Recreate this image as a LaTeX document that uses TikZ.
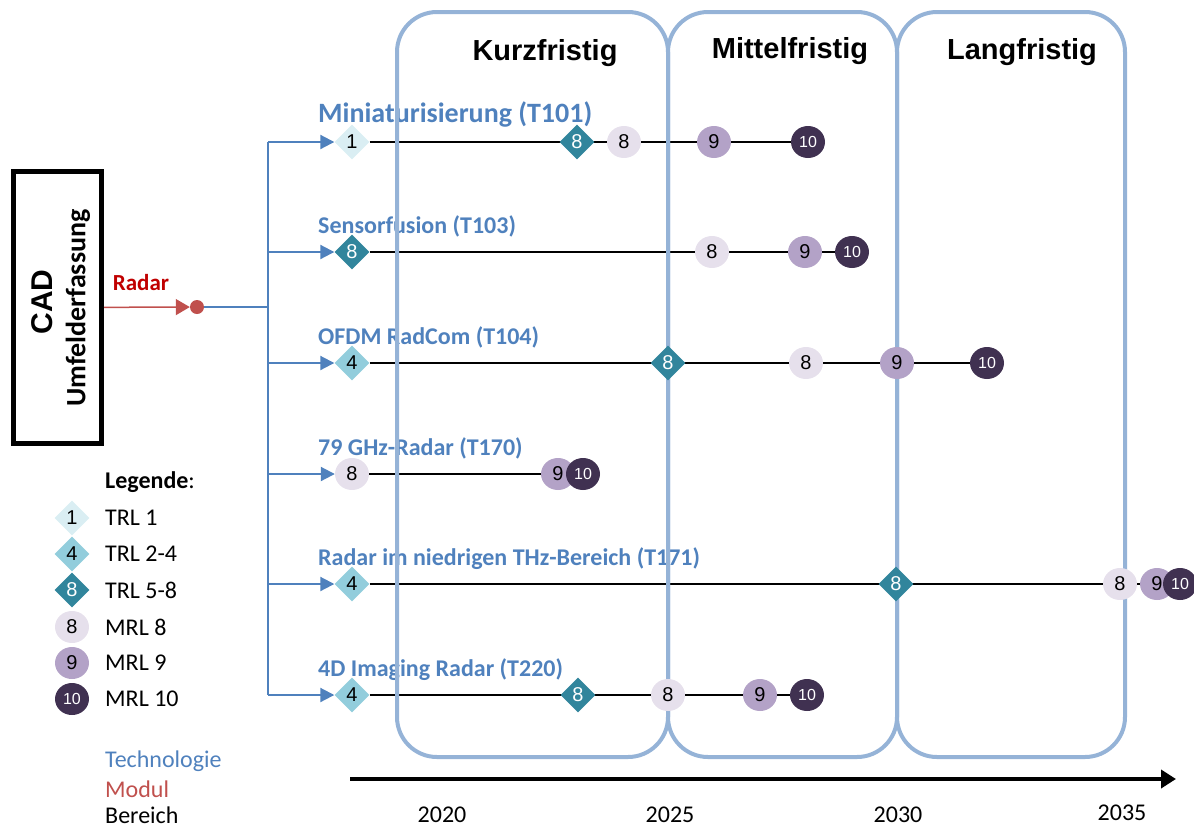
\documentclass[tikz,border=0pt]{standalone}
\usepackage{fontspec}
\setmainfont{Carlito}
\newfontfamily\arialfont{Liberation Sans}
\usepackage{tikz}
\usetikzlibrary{arrows.meta}
\usetikzlibrary{shapes.geometric}

\definecolor{trlone}{HTML}{DAEEF3}
\definecolor{trltwo}{HTML}{92CDDC}
\definecolor{trlfive}{HTML}{31859C}
\definecolor{mrleight}{HTML}{E6E0EC}
\definecolor{mrlnine}{HTML}{B3A2C7}
\definecolor{mrlten}{HTML}{403151}
\definecolor{techblue}{HTML}{4F81BD}
\definecolor{colblue}{HTML}{95B3D7}
\definecolor{modred}{HTML}{C0504D}
\definecolor{radred}{HTML}{C00000}

\pgfdeclarelayer{back}
\pgfdeclarelayer{cols}
\pgfsetlayers{back,cols,main}

\begin{document}
\begin{tikzpicture}[x=1pt,y=-1pt,
	trl/.style={diamond,minimum width=35pt,minimum height=35pt,inner sep=0pt,font=\arialfont\fontsize{20}{20}\selectfont},
	trla/.style={trl,fill=trlone},
	trlb/.style={trl,fill=trltwo},
	trlc/.style={trl,fill=trlfive,text=white},
	mrl/.style={ellipse,minimum width=34pt,minimum height=32pt,inner sep=0pt,font=\arialfont\fontsize{20}{20}\selectfont},
	mrla/.style={mrl,fill=mrleight},
	mrlb/.style={mrl,fill=mrlnine},
	mrlc/.style={mrl,fill=mrlten,text=white,font=\arialfont\fontsize{16}{16}\selectfont},
	tech/.style={anchor=base west,inner sep=0pt,text=techblue,font=\bfseries\fontsize{24}{24}\selectfont},
	head/.style={font=\arialfont\bfseries\fontsize{29}{29}\selectfont},
	year/.style={font=\fontsize{24}{24}\selectfont},
	legtext/.style={anchor=west,inner sep=0pt,font=\fontsize{24}{24}\selectfont},
	row/.style={line width=2.5pt},
	tline/.style={draw=techblue,line width=2pt},
	col/.style={draw=colblue,line width=4pt,rounded corners=40pt}]
	\useasboundingbox (0,0) rectangle (1194,828);

	\node[draw,line width=5pt,minimum width=88pt,minimum height=272pt] (cad) at (57.5,307.5) {};
	\node[rotate=90,font=\arialfont\bfseries\fontsize{30}{30}\selectfont] (cadname) at (42,302) {CAD};
	\node[rotate=90,font=\bfseries\fontsize{28}{28}\selectfont] (cadarea) at (78,308) {Umfelderfassung};

	\node[circle,fill=modred,inner sep=0pt,minimum size=14pt] (rad) at (197,307) {};
	\node[text=radred,font=\bfseries\fontsize{23}{23}\selectfont] (radlbl) at (141,283) {Radar};
	\draw[modred,line width=1.5pt,-{Triangle[length=14pt,width=16pt]}] (cad) -- (rad);

	\node[head] (kurz) at (545,53) {Kurzfristig};
	\node[head] (mittel) at (790,51) {Mittelfristig};
	\node[head] (lang) at (1022,52) {Langfristig};

	\node[trla] (m1) at (352,142) {1};
	\node[trlc] (m1b) at (577,142) {8};
	\node[mrla] (m1c) at (624,142) {8};
	\node[mrlb] (m1d) at (714,142) {9};
	\node[mrlc] (m1e) at (808,142) {10};

	\node[trlc] (m2) at (352,252) {8};
	\node[mrla] (m2b) at (712,252) {8};
	\node[mrlb] (m2c) at (805,252) {9};
	\node[mrlc] (m2e) at (852,252) {10};

	\node[trlb] (m3) at (352,363) {4};
	\node[trlc] (m3b) at (668,363) {8};
	\node[mrla] (m3c) at (806,363) {8};
	\node[mrlb] (m3d) at (897,363) {9};
	\node[mrlc] (m3e) at (987,363) {10};

	\node[mrla] (m4) at (352,474) {8};
	\node[mrlb] (m4b) at (558,474) {9};
	\node[mrlc] (m4e) at (583,474) {10};

	\node[trlb] (m5) at (352,584) {4};
	\node[trlc] (m5b) at (896,584) {8};
	\node[mrla] (m5c) at (1120,584) {8};
	\node[mrlb] (m5d) at (1157,584) {9};
	\node[mrlc] (m5e) at (1180,584) {10};

	\node[trlb] (m6) at (352,695) {4};
	\node[trlc] (m6b) at (578,695) {8};
	\node[mrla] (m6c) at (668,695) {8};
	\node[mrlb] (m6d) at (760,695) {9};
	\node[mrlc] (m6e) at (807,695) {10};

	\begin{pgfonlayer}{back}
		\node[tech,font=\bfseries\fontsize{28}{28}\selectfont] (l1) at (318,122) {Miniaturisierung (T101)};
		\node[tech] (l2) at (318,233) {Sensorfusion (T103)};
		\node[tech] (l3) at (318,344) {OFDM RadCom (T104)};
		\node[tech] (l4) at (318,455) {79 GHz-Radar (T170)};
		\node[tech] (l5) at (318,565) {Radar im niedrigen THz-Bereich (T171)};
		\node[tech] (l6) at (318,676) {4D Imaging Radar (T220)};
		\foreach \r in {1,...,6}
			\draw[row] (m\r) -- (m\r e);
	\end{pgfonlayer}

	\begin{pgfonlayer}{cols}
		\draw[col] (397,12) rectangle (668,757);
		\draw[col] (668,12) rectangle (897,757);
		\draw[col] (897,12) rectangle (1125,757);
	\end{pgfonlayer}

	\coordinate (fork) at (268,307);
	\draw[tline] (rad) -- (fork);
	\draw[tline] (fork |- m1) -- (fork |- m6);
	\foreach \r in {1,...,6}
		\draw[tline,-{Triangle[length=14pt,width=14pt]}] (fork |- m\r) -- (m\r);

	\coordinate (t0) at (350,779);
	\coordinate (t1) at (1176,779);
	\draw[line width=4pt,-{Triangle[length=15pt,width=18pt]}] (t0) -- (t1);
	\node[year] (y20) at (442,815) {2020};
	\node[year] (y25) at (670,815) {2025};
	\node[year] (y30) at (898,815) {2030};
	\node[year] (y35) at (1122,813) {2035};

	\node[legtext] (leghead) at (105,482) {\textbf{Legende}:};
	\foreach \y/\s/\n/\t [count=\i] in {518/trla/1/TRL 1,554/trlb/4/TRL 2-4,590/trlc/8/TRL 5-8,627/mrla/8/MRL 8,663/mrlb/9/MRL 9,699/mrlc/10/MRL 10} {
		\node[\s] (sym\i) at (72,\y) {\n};
		\node[legtext] (leg\i) at (105,\y) {\t};
	}
	\node[legtext,text=techblue] (legtech) at (105,761) {Technologie};
	\node[legtext,text=modred] (legmod) at (105,789) {Modul};
	\node[legtext] (legarea) at (105,815) {Bereich};
\end{tikzpicture}
\end{document}
